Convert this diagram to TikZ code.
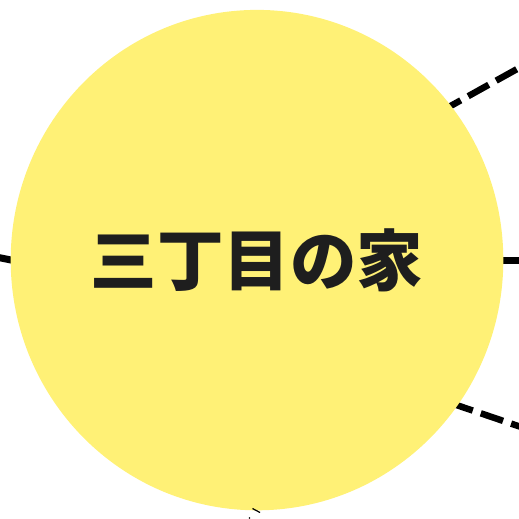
\documentclass[tikz,border=0pt]{standalone}
\usepackage{fontspec}
\newfontfamily\jpfont{Noto Sans CJK JP}
\usetikzlibrary{shapes.geometric}
\definecolor{nodeyellow}{HTML}{FFF176}
\definecolor{textdark}{HTML}{1E1E1E}
\tikzset{
  linkdash/.style={line width=6.5pt, dash pattern=on 23.5pt off 8.5pt},
  linksolid/.style={line width=7pt},
  homenode/.style={ellipse, fill=nodeyellow, draw=none, inner sep=0pt,
    minimum width=492.6pt, minimum height=500.4pt, text=textdark,
    font=\jpfont\bfseries\fontsize{66.5pt}{70pt}\selectfont},
  thinmark/.style={line width=1.2pt, draw=black}
}
\begin{document}
\begin{tikzpicture}[x=1pt,y=-1pt]
\useasboundingbox (0,0) rectangle (519,519);
\clip (0,0) rectangle (519,519);
% free ends of connectors
\coordinate (trIn) at (356.3,158.4);
\coordinate (trOut) at (555.6,47.6);
\coordinate (brIn) at (359.6,372.1);
\coordinate (brOut) at (575.5,445.5);
\coordinate (rIn) at (470,260);
\coordinate (rOut) at (545,260);
\coordinate (lIn) at (40,265.8);
\coordinate (lOut) at (-30,251.8);
\coordinate (bA) at (252.5,508.5);
\coordinate (bB) at (260,512.5);
% connectors (behind the node)
\draw[linkdash] (trIn) -- (trOut);
\draw[linkdash] (brIn) -- (brOut);
\draw[linksolid] (rIn) -- (rOut);
\draw[linksolid] (lIn) -- (lOut);
% the node
\node[homenode] (home) at (257,260.1) {三丁目の家};
% small mark at the bottom
\draw[thinmark] (bA) -- (bB);
\fill[black] (249.5,518) circle (0.8pt);
\end{tikzpicture}
\end{document}
